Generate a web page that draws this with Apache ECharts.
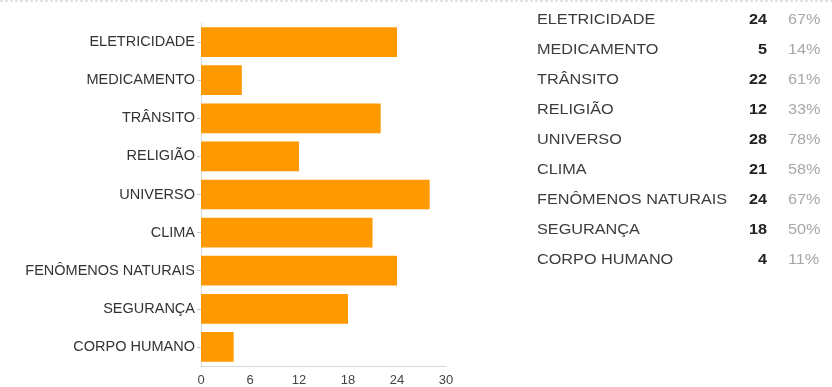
<!DOCTYPE html>
<html lang="pt">
<head>
    <meta charset="utf-8" />
    <title>Temas</title>
    <script src="https://cdn.jsdelivr.net/npm/echarts@6/dist/echarts.min.js"></script>
    <style>
        html, body { margin: 0; padding: 0; background: #fff; }
        #main { width: 832px; height: 387px; }
    </style>
</head>
<body>
<div id="main"></div>
<script>
    // dados
    var categorias = ['ELETRICIDADE', 'MEDICAMENTO', 'TRÂNSITO', 'RELIGIÃO', 'UNIVERSO', 'CLIMA', 'FENÔMENOS NATURAIS', 'SEGURANÇA', 'CORPO HUMANO'];
    var valores = [24, 5, 22, 12, 28, 21, 24, 18, 4];
    var percentuais = ['67%', '14%', '61%', '33%', '78%', '58%', '67%', '50%', '11%'];
    var ticksX = [0, 6, 12, 18, 24, 30];

    var fonte = '"Liberation Sans", Arial, sans-serif';

    // tabela da direita (texto um pouco esticado na horizontal como na imagem)
    var tabela = [];
    for (var i = 0; i < categorias.length; i++) {
        var y = 20 + i * 30;
        tabela.push({
            type: 'text', x: 537, y: y, scaleX: 1.16,
            style: {text: categorias[i], font: '14px ' + fonte, fill: '#3c3c3c', verticalAlign: 'middle'}
        });
        tabela.push({
            type: 'text', x: 767, y: y, scaleX: 1.16,
            style: {text: String(valores[i]), font: 'bold 14px ' + fonte, fill: '#222', align: 'right', verticalAlign: 'middle'}
        });
        tabela.push({
            type: 'text', x: 788, y: y, scaleX: 1.16,
            style: {text: percentuais[i], font: '14px ' + fonte, fill: '#a8a8a8', align: 'left', verticalAlign: 'middle'}
        });
    }
    // linha pontilhada no topo
    tabela.push({
        type: 'line', shape: {x1: 0, y1: 1, x2: 832, y2: 1},
        style: {stroke: '#e2e2e2', lineWidth: 2, lineDash: [3, 2]}
    });

    var myChart = echarts.init(document.getElementById('main'));

    var option = {
        animation: false,
        backgroundColor: '#fff',
        grid: {left: 201, right: 386, top: 23, bottom: 20, containLabel: false},
        xAxis: {
            type: 'value',
            min: ticksX[0],
            max: ticksX[ticksX.length - 1],
            interval: ticksX[1] - ticksX[0],
            splitLine: {show: false},
            axisLine: {show: true, lineStyle: {color: '#cfd8dc', width: 1}},
            axisTick: {show: false},
            axisLabel: {color: '#444', fontSize: 13, fontFamily: fonte, margin: 8}
        },
        yAxis: {
            type: 'category',
            inverse: true,
            data: categorias,
            axisLine: {show: true, lineStyle: {color: '#d5dde2', width: 1}},
            axisTick: {show: true, alignWithLabel: true, length: 4, lineStyle: {color: '#c8c8c8'}},
            axisLabel: {color: '#333', fontSize: 14.5, fontFamily: fonte, margin: 6}
        },
        series: [{
            type: 'bar',
            data: valores,
            barCategoryGap: '22%',
            itemStyle: {color: '#ff9900'}
        }],
        graphic: tabela
    };

    myChart.setOption(option);
</script>
</body>
</html>
